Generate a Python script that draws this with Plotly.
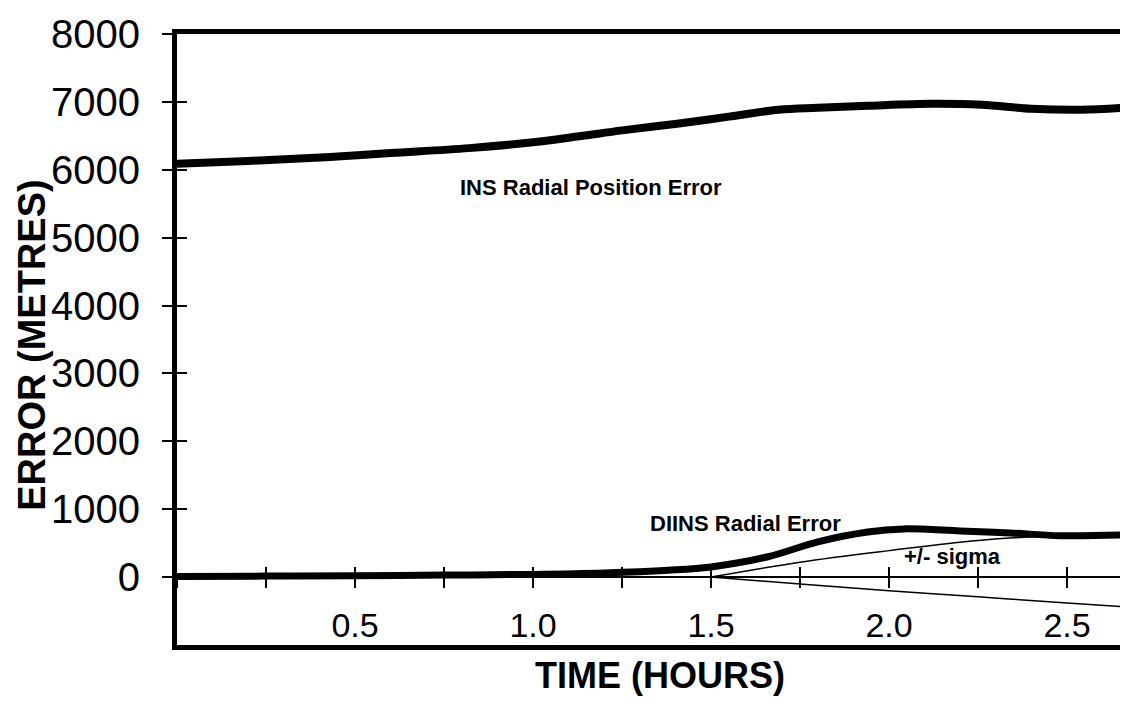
import plotly.graph_objects as go

# ---- data ----
ins_time = [0.0, 0.2, 0.43, 0.6, 0.82, 1.0, 1.13, 1.25, 1.41, 1.55, 1.69, 1.8, 1.94, 2.12, 2.26, 2.40, 2.54, 2.66]
ins_err = [6087, 6130, 6188, 6246, 6319, 6405, 6493, 6580, 6681, 6783, 6884, 6913, 6942, 6971, 6957, 6899, 6884, 6913]

diins_time = [0.0, 0.25, 0.5, 0.75, 1.0, 1.2, 1.38, 1.5, 1.66, 1.8, 1.94, 2.04, 2.2, 2.34, 2.48, 2.66]
diins_err = [10, 15, 20, 30, 40, 60, 100, 150, 300, 520, 665, 710, 680, 650, 610, 620]

sig_time = [1.5, 1.75, 2.0, 2.25, 2.5, 2.66]
sig_upper = [0, 220, 390, 540, 615, 620]
sig_lower = [0, -100, -200, -290, -380, -435]

x_tick_vals = [0.5, 1.0, 1.5, 2.0, 2.5]
x_tick_text = ["0.5", "1.0", "1.5", "2.0", "2.5"]
y_tick_vals = [-1000, 0, 1000, 2000, 3000, 4000, 5000, 6000, 7000, 8000]
y_tick_text = ["-1000", "0", "1000", "2000", "3000", "4000", "5000", "6000", "7000", "8000"]

X_RANGE = [0, 2.66]
Y_RANGE = [-1000, 8000]
FONT = "Liberation Sans, Arial, sans-serif"

fig = go.Figure()

# sigma envelope (thin)
fig.add_trace(go.Scatter(x=sig_time, y=sig_upper, mode="lines",
                         line=dict(color="black", width=1.5, shape="spline"), showlegend=False))
fig.add_trace(go.Scatter(x=sig_time, y=sig_lower, mode="lines",
                         line=dict(color="black", width=1.5, shape="spline"), showlegend=False))
# DIINS
fig.add_trace(go.Scatter(x=diins_time, y=diins_err, mode="lines",
                         line=dict(color="black", width=7, shape="spline"), showlegend=False))
# INS
fig.add_trace(go.Scatter(x=ins_time, y=ins_err, mode="lines",
                         line=dict(color="black", width=8, shape="spline"), showlegend=False))
# helper (empty) traces so overlay axes are drawn
fig.add_trace(go.Scatter(x=[], y=[], xaxis="x2", yaxis="y", showlegend=False))
fig.add_trace(go.Scatter(x=[], y=[], xaxis="x3", yaxis="y", showlegend=False))
fig.add_trace(go.Scatter(x=[], y=[], xaxis="x", yaxis="y2", showlegend=False))
fig.add_trace(go.Scatter(x=[], y=[], xaxis="x", yaxis="y3", showlegend=False))

zero_pos = (0 - Y_RANGE[0]) / (Y_RANGE[1] - Y_RANGE[0])

fig.update_layout(
    width=1120, height=691,
    margin=dict(l=169, r=4, t=22, b=54),
    paper_bgcolor="white", plot_bgcolor="white",
    font=dict(family=FONT, color="black"),
    xaxis=dict(range=X_RANGE, showgrid=False, zeroline=False,
               showline=True, linewidth=5, linecolor="black", mirror=True,
               ticks="", tickvals=x_tick_vals, ticktext=x_tick_text,
               ticklabelposition="inside", ticklabelstandoff=5,
               tickfont=dict(size=34, family=FONT, color="black")),
    xaxis2=dict(range=X_RANGE, overlaying="x", anchor="free", position=zero_pos,
                showgrid=False, zeroline=False, showline=True, linewidth=1.5, linecolor="black",
                ticks="outside", ticklen=10, tickwidth=1.5, tickcolor="black",
                tick0=0, dtick=0.25, showticklabels=False),
    xaxis3=dict(range=X_RANGE, overlaying="x", anchor="free", position=zero_pos,
                showgrid=False, zeroline=False, showline=False,
                ticks="inside", ticklen=10, tickwidth=1.5, tickcolor="black",
                tick0=0, dtick=0.25, showticklabels=False),
    yaxis=dict(range=Y_RANGE, showgrid=False, zeroline=False,
               showline=True, linewidth=5, linecolor="black", mirror=False,
               ticks="outside", ticklen=10, tickwidth=2, tickcolor="black",
               tickvals=y_tick_vals, ticktext=y_tick_text, ticklabelstandoff=14,
               tickfont=dict(size=40, family=FONT, color="black")),
    yaxis2=dict(range=Y_RANGE, overlaying="y", side="left", showgrid=False, zeroline=False,
                showline=False, ticks="inside", ticklen=10, tickwidth=2, tickcolor="black",
                tickvals=y_tick_vals, showticklabels=False),
    yaxis3=dict(range=Y_RANGE, overlaying="y", side="right", showgrid=False, zeroline=False,
                showline=True, linewidth=3, linecolor="black", ticks="", showticklabels=False),
    annotations=[
        dict(text="<b>ERROR (METRES)</b>", xref="paper", yref="paper",
             x=-0.154, y=0.49, textangle=-90, showarrow=False,
             font=dict(size=38, family=FONT), xanchor="center", yanchor="middle"),
        dict(text="<b>TIME (HOURS)</b>", xref="paper", yref="paper",
             x=0.51, y=-0.0504, showarrow=False,
             font=dict(size=36, family=FONT), xanchor="center", yanchor="middle"),
        dict(text="<b>INS Radial Position Error</b>", xref="x", yref="y",
             x=1.163, y=5732, showarrow=False,
             font=dict(size=22, family=FONT), xanchor="center", yanchor="middle"),
        dict(text="<b>DIINS Radial Error</b>", xref="x", yref="y",
             x=1.598, y=786, showarrow=False,
             font=dict(size=22, family=FONT), xanchor="center", yanchor="middle"),
        dict(text="<b>+/- sigma</b>", xref="x", yref="y",
             x=2.177, y=303, showarrow=False,
             font=dict(size=22, family=FONT), xanchor="center", yanchor="middle"),
    ],
)

fig.write_html("out.html")
